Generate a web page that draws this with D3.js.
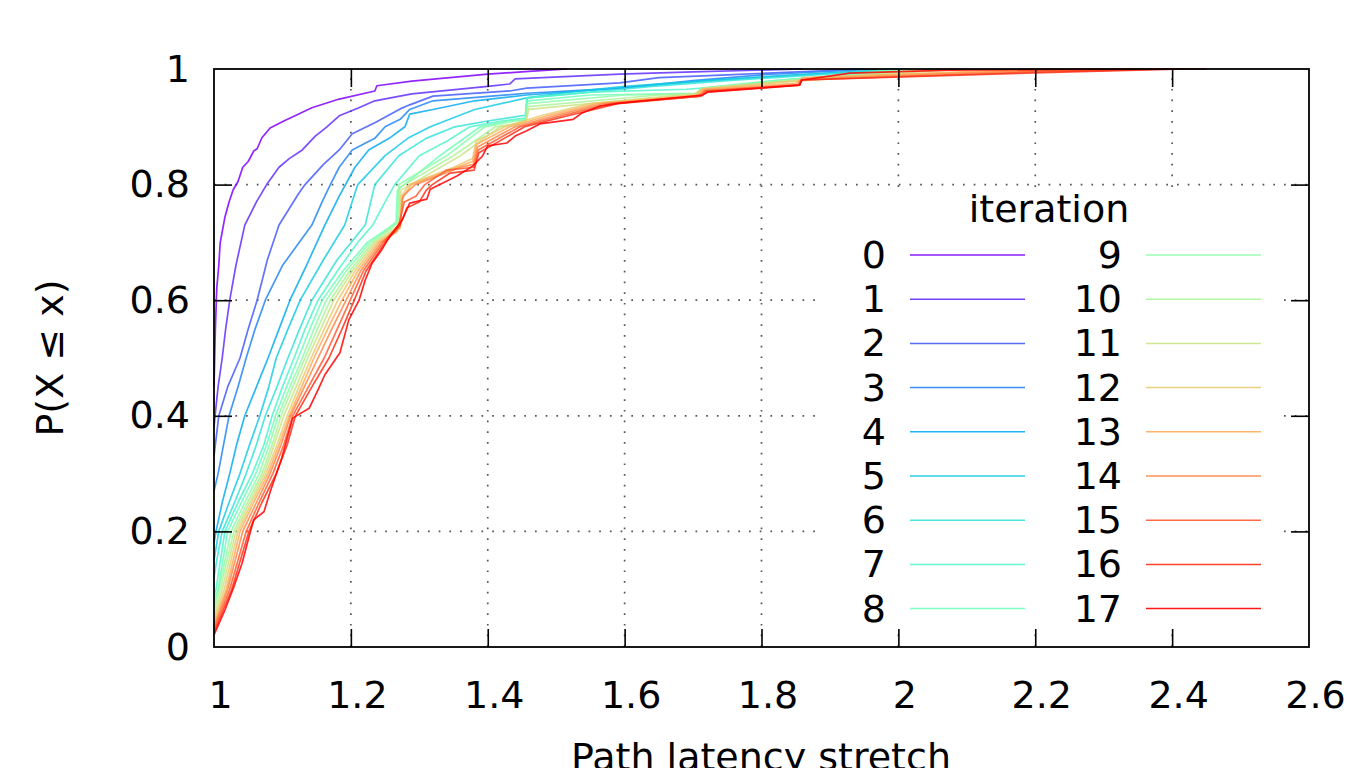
<!DOCTYPE html>
<html>
<head>
<meta charset="utf-8">
<script src="https://cdn.jsdelivr.net/npm/d3@7"></script>
<style>
  body { margin: 0; background: #fff; }
  svg { display: block; font-family: "DejaVu Sans", sans-serif; }
</style>
</head>
<body>
<div id="chart"></div>
<script>
// iterations shown in the legend, one CDF per iteration
var iterations = [0, 1, 2, 3, 4, 5, 6, 7, 8, 9, 10, 11, 12, 13, 14, 15, 16, 17];

var xTicks = [1, 1.2, 1.4, 1.6, 1.8, 2, 2.2, 2.4, 2.6];
var yTicks = [0, 0.2, 0.4, 0.6, 0.8, 1];

// [stretch, P(X <= x)] points of each iteration's cumulative curve
var cdf = [
    [[1.000,0.45],[1.002,0.55],[1.004,0.62],[1.007,0.66],[1.009,0.699],[1.016,0.744],[1.022,0.770],[1.028,0.791],[1.035,0.805],[1.042,0.830],[1.050,0.840],[1.058,0.858],[1.063,0.862],[1.070,0.881],[1.082,0.898],[1.102,0.910],[1.120,0.920],[1.143,0.933],[1.183,0.948],[1.235,0.962],[1.238,0.971],[1.289,0.979],[1.400,0.991],[1.460,0.996],[1.516,1.0]],
    [[1.000,0.38],[1.0015,0.40],[1.006,0.45],[1.012,0.50],[1.017,0.55],[1.023,0.60],[1.032,0.66],[1.045,0.73],[1.062,0.77],[1.077,0.80],[1.095,0.83],[1.110,0.845],[1.129,0.86],[1.148,0.884],[1.165,0.90],[1.183,0.919],[1.210,0.932],[1.235,0.945],[1.289,0.957],[1.40,0.97],[1.432,0.974],[1.440,0.983],[1.593,0.991],[1.70,0.995],[1.86,1.0]],
    [[1.000,0.33],[1.003,0.36],[1.007,0.40],[1.020,0.45],[1.038,0.50],[1.050,0.55],[1.063,0.60],[1.078,0.67],[1.095,0.73],[1.124,0.785],[1.133,0.80],[1.160,0.835],[1.183,0.86],[1.202,0.888],[1.235,0.907],[1.272,0.931],[1.286,0.938],[1.32,0.953],[1.432,0.962],[1.457,0.967],[1.593,0.976],[1.65,0.985],[1.75,0.99],[1.95,1.0]],
    [[1.000,0.27],[1.006,0.30],[1.014,0.35],[1.022,0.40],[1.035,0.45],[1.047,0.50],[1.060,0.55],[1.075,0.60],[1.100,0.66],[1.143,0.73],[1.158,0.77],[1.170,0.80],[1.183,0.83],[1.202,0.86],[1.235,0.88],[1.250,0.90],[1.272,0.913],[1.286,0.93],[1.32,0.945],[1.457,0.958],[1.593,0.967],[1.70,0.98],[1.80,0.99],[1.97,1.0]],
    [[1.000,0.18],[1.003,0.20],[1.012,0.25],[1.023,0.30],[1.033,0.35],[1.045,0.40],[1.062,0.45],[1.079,0.50],[1.095,0.55],[1.111,0.60],[1.135,0.66],[1.162,0.73],[1.183,0.78],[1.206,0.83],[1.226,0.86],[1.256,0.88],[1.279,0.90],[1.286,0.922],[1.32,0.93],[1.381,0.945],[1.457,0.955],[1.593,0.967],[1.72,0.98],[1.85,0.99],[2.0,1.0]],
    [[1.000,0.15],[1.007,0.20],[1.022,0.25],[1.038,0.30],[1.052,0.35],[1.067,0.40],[1.080,0.45],[1.091,0.50],[1.108,0.55],[1.126,0.60],[1.160,0.67],[1.191,0.73],[1.210,0.80],[1.250,0.85],[1.283,0.88],[1.316,0.90],[1.381,0.93],[1.457,0.95],[1.52,0.96],[1.60,0.97],[1.72,0.98],[1.86,0.99],[2.0,1.0]],
    [[1.000,0.12],[1.004,0.15],[1.012,0.20],[1.030,0.25],[1.047,0.30],[1.062,0.35],[1.075,0.40],[1.092,0.45],[1.108,0.50],[1.125,0.55],[1.143,0.60],[1.180,0.67],[1.221,0.73],[1.235,0.80],[1.270,0.85],[1.310,0.88],[1.352,0.90],[1.40,0.91],[1.455,0.92],[1.458,0.95],[1.55,0.96],[1.64,0.97],[1.75,0.98],[1.88,0.99],[2.0,1.0]],
    [[1.000,0.09],[1.003,0.10],[1.016,0.20],[1.035,0.25],[1.056,0.30],[1.073,0.35],[1.085,0.40],[1.100,0.45],[1.117,0.50],[1.133,0.55],[1.152,0.60],[1.180,0.65],[1.210,0.70],[1.232,0.73],[1.250,0.77],[1.264,0.80],[1.300,0.85],[1.340,0.875],[1.374,0.90],[1.42,0.91],[1.455,0.915],[1.457,0.95],[1.55,0.96],[1.69,0.965],[1.75,0.97],[1.82,0.98],[1.92,0.99],[2.0,1.0]],
    [[1.000,0.08],[1.006,0.10],[1.020,0.20],[1.040,0.25],[1.061,0.30],[1.077,0.35],[1.090,0.40],[1.106,0.45],[1.123,0.50],[1.140,0.55],[1.158,0.60],[1.188,0.65],[1.224,0.70],[1.255,0.725],[1.266,0.735],[1.268,0.79],[1.278,0.80],[1.330,0.85],[1.389,0.90],[1.43,0.91],[1.455,0.912],[1.458,0.945],[1.55,0.955],[1.705,0.958],[1.712,0.967],[1.82,0.98],[1.93,0.99],[2.0,1.0]],
    [[1.000,0.07],[1.007,0.10],[1.025,0.20],[1.045,0.25],[1.066,0.30],[1.081,0.35],[1.094,0.40],[1.111,0.45],[1.129,0.50],[1.146,0.55],[1.164,0.60],[1.193,0.65],[1.228,0.70],[1.258,0.725],[1.268,0.735],[1.270,0.80],[1.340,0.85],[1.396,0.90],[1.44,0.91],[1.456,0.912],[1.458,0.94],[1.60,0.955],[1.705,0.957],[1.712,0.966],[1.83,0.98],[1.94,0.99],[2.02,1.0]],
    [[1.000,0.06],[1.009,0.10],[1.029,0.20],[1.049,0.25],[1.070,0.30],[1.085,0.35],[1.098,0.40],[1.115,0.45],[1.133,0.50],[1.151,0.55],[1.170,0.60],[1.198,0.65],[1.232,0.70],[1.260,0.725],[1.270,0.735],[1.271,0.795],[1.350,0.85],[1.411,0.90],[1.445,0.905],[1.456,0.91],[1.459,0.935],[1.65,0.955],[1.706,0.957],[1.713,0.966],[1.84,0.98],[1.95,0.99],[2.05,1.0]],
    [[1.000,0.05],[1.012,0.10],[1.032,0.20],[1.052,0.25],[1.073,0.30],[1.088,0.35],[1.102,0.40],[1.120,0.45],[1.137,0.50],[1.156,0.55],[1.175,0.60],[1.202,0.65],[1.235,0.70],[1.262,0.722],[1.271,0.73],[1.273,0.79],[1.360,0.85],[1.418,0.90],[1.456,0.91],[1.460,0.93],[1.68,0.955],[1.707,0.957],[1.714,0.965],[1.85,0.98],[1.96,0.99],[2.1,1.0]],
    [[1.000,0.045],[1.015,0.10],[1.035,0.20],[1.055,0.25],[1.076,0.30],[1.092,0.35],[1.107,0.40],[1.124,0.45],[1.142,0.50],[1.161,0.55],[1.181,0.60],[1.206,0.65],[1.238,0.70],[1.264,0.72],[1.272,0.73],[1.274,0.78],[1.285,0.80],[1.350,0.83],[1.378,0.845],[1.383,0.875],[1.425,0.90],[1.48,0.92],[1.55,0.94],[1.70,0.955],[1.714,0.966],[1.86,0.98],[2.0,0.99],[2.2,1.0]],
    [[1.000,0.04],[1.018,0.10],[1.038,0.20],[1.058,0.25],[1.079,0.30],[1.095,0.35],[1.110,0.40],[1.128,0.45],[1.146,0.50],[1.166,0.55],[1.187,0.60],[1.210,0.65],[1.241,0.70],[1.265,0.718],[1.272,0.725],[1.275,0.775],[1.288,0.80],[1.355,0.83],[1.378,0.84],[1.384,0.87],[1.432,0.90],[1.49,0.92],[1.56,0.94],[1.705,0.954],[1.715,0.965],[1.85,0.975],[1.86,0.985],[2.1,0.995],[2.3,1.0]],
    [[1.000,0.035],[1.020,0.10],[1.042,0.20],[1.062,0.25],[1.082,0.30],[1.098,0.35],[1.112,0.40],[1.132,0.45],[1.152,0.50],[1.172,0.55],[1.193,0.60],[1.214,0.65],[1.244,0.70],[1.266,0.718],[1.272,0.73],[1.276,0.78],[1.294,0.80],[1.360,0.83],[1.379,0.835],[1.385,0.865],[1.440,0.90],[1.50,0.92],[1.57,0.94],[1.708,0.953],[1.716,0.963],[1.853,0.973],[1.858,0.982],[2.15,0.995],[2.35,1.0]],
    [[1.000,0.03],[1.023,0.10],[1.047,0.20],[1.066,0.25],[1.086,0.30],[1.102,0.35],[1.115,0.40],[1.138,0.45],[1.161,0.50],[1.180,0.55],[1.199,0.60],[1.218,0.65],[1.247,0.70],[1.270,0.73],[1.278,0.77],[1.295,0.78],[1.308,0.80],[1.340,0.825],[1.380,0.83],[1.386,0.86],[1.447,0.90],[1.51,0.92],[1.58,0.94],[1.71,0.953],[1.718,0.962],[1.854,0.972],[1.858,0.981],[2.2,0.995],[2.4,1.0]],
    [[1.000,0.025],[1.026,0.10],[1.051,0.20],[1.070,0.25],[1.091,0.30],[1.107,0.35],[1.119,0.40],[1.143,0.45],[1.168,0.50],[1.187,0.55],[1.205,0.60],[1.222,0.65],[1.250,0.70],[1.272,0.73],[1.282,0.76],[1.300,0.77],[1.310,0.79],[1.319,0.80],[1.345,0.82],[1.380,0.825],[1.387,0.855],[1.454,0.90],[1.52,0.92],[1.59,0.94],[1.712,0.953],[1.72,0.961],[1.855,0.972],[1.859,0.981],[2.25,0.995],[2.42,1.0]],
    [[1.000,0.021],[1.016,0.064],[1.029,0.104],[1.041,0.145],[1.051,0.190],[1.058,0.220],[1.073,0.234],[1.082,0.268],[1.099,0.327],[1.111,0.379],[1.115,0.396],[1.139,0.413],[1.152,0.445],[1.162,0.471],[1.184,0.509],[1.197,0.566],[1.212,0.600],[1.221,0.635],[1.231,0.664],[1.245,0.687],[1.256,0.709],[1.275,0.739],[1.286,0.768],[1.311,0.775],[1.316,0.792],[1.355,0.815],[1.378,0.832],[1.392,0.849],[1.400,0.867],[1.428,0.872],[1.440,0.884],[1.457,0.893],[1.476,0.905],[1.525,0.913],[1.538,0.924],[1.564,0.936],[1.593,0.941],[1.714,0.955],[1.722,0.960],[1.856,0.972],[1.859,0.981],[1.929,0.993],[2.075,0.998],[2.222,0.999],[2.45,1.0]]
];

var WIDTH = 1348, HEIGHT = 768;
var margin = {left: 214, right: 1309, top: 69, bottom: 647};
var FONT = 38;

// gnuplot style rainbow palette (rgbformulae 33,13,10)
function rainbow(t) {
    var r = Math.min(1, Math.abs(2 * t - 0.5));
    var g = Math.sin(Math.PI * t);
    var b = Math.max(0, Math.cos(Math.PI / 2 * t));
    return d3.rgb(r * 255, g * 255, b * 255).formatHex();
}
var color = function (i) { return rainbow(i / (iterations.length - 1)); };

var x = d3.scaleLinear().domain([1, 2.6]).range([margin.left, margin.right]);
var y = d3.scaleLinear().domain([0, 1]).range([margin.bottom, margin.top]);

var svg = d3.select("#chart").append("svg")
    .attr("width", WIDTH)
    .attr("height", HEIGHT);

// dotted grid
var grid = svg.append("g").attr("class", "grid")
    .attr("stroke", "#555")
    .attr("stroke-width", 1.7)
    .attr("stroke-dasharray", "1.7,9");
grid.selectAll("line.gx")
    .data(xTicks.slice(1, -1)).enter()
    .append("line")
    .attr("x1", function (d) { return x(d); })
    .attr("x2", function (d) { return x(d); })
    .attr("y1", margin.bottom)
    .attr("y2", margin.top);
grid.selectAll("line.gy")
    .data(yTicks.slice(1, -1)).enter()
    .append("line")
    .attr("x1", margin.left)
    .attr("x2", margin.right)
    .attr("y1", function (d) { return y(d); })
    .attr("y2", function (d) { return y(d); });

// legend sits on a white box over the grid
var legendBox = {x: 815, y: 189, w: 469, h: 442};
svg.append("rect")
    .attr("x", legendBox.x).attr("y", legendBox.y)
    .attr("width", legendBox.w).attr("height", legendBox.h)
    .attr("fill", "#fff");

// curves
var line = d3.line()
    .x(function (d) { return x(d[0]); })
    .y(function (d) { return y(d[1]); });

svg.append("g").attr("class", "curves")
    .selectAll("path")
    .data(cdf).enter()
    .append("path")
    .attr("d", line)
    .attr("fill", "none")
    .attr("stroke", function (d, i) { return color(i); })
    .attr("stroke-opacity", 0.85)
    .attr("stroke-width", 1.7)
    .attr("stroke-linejoin", "round");

// axes, ticks drawn inwards on all four sides
var TICK = 18;
var fmt = d3.format("~g");

var xAxis = svg.append("g")
    .attr("transform", "translate(0," + margin.bottom + ")")
    .call(d3.axisBottom(x).tickValues(xTicks).tickFormat(fmt).tickSize(-TICK).tickPadding(34));
var xAxisTop = svg.append("g")
    .attr("transform", "translate(0," + margin.top + ")")
    .call(d3.axisTop(x).tickValues(xTicks).tickFormat("").tickSize(-TICK));
var yAxis = svg.append("g")
    .attr("transform", "translate(" + margin.left + ",0)")
    .call(d3.axisLeft(y).tickValues(yTicks).tickFormat(fmt).tickSize(-TICK).tickPadding(24));
var yAxisRight = svg.append("g")
    .attr("transform", "translate(" + margin.right + ",0)")
    .call(d3.axisRight(y).tickValues(yTicks).tickFormat("").tickSize(-TICK));

[xAxis, xAxisTop, yAxis, yAxisRight].forEach(function (g) {
    g.select(".domain").remove();
    g.selectAll(".tick line").attr("stroke", "#000").attr("stroke-width", 1.6);
    g.selectAll("text")
        .attr("fill", "#000")
        .style("font-size", FONT + "px")
        .style("font-family", "'DejaVu Sans', sans-serif");
});
xAxis.selectAll("text").attr("x", 6);
// the outermost ticks coincide with the border
xAxis.selectAll(".tick").filter(function (d) { return d === 1 || d === 2.6; }).select("line").remove();
xAxisTop.selectAll(".tick").filter(function (d) { return d === 1 || d === 2.6; }).select("line").remove();
yAxis.selectAll(".tick").filter(function (d) { return d === 0 || d === 1; }).select("line").remove();
yAxisRight.selectAll(".tick").filter(function (d) { return d === 0 || d === 1; }).select("line").remove();

// border
svg.append("rect")
    .attr("x", margin.left).attr("y", margin.top)
    .attr("width", margin.right - margin.left)
    .attr("height", margin.bottom - margin.top)
    .attr("fill", "none")
    .attr("stroke", "#000")
    .attr("stroke-width", 1.8);

// axis titles
svg.append("text")
    .attr("x", 761)
    .attr("y", 770)
    .attr("text-anchor", "middle")
    .style("font-size", FONT + "px")
    .text("Path latency stretch");

svg.append("text")
    .attr("transform", "translate(63," + ((margin.top + margin.bottom) / 2) + ")rotate(-90)")
    .attr("text-anchor", "middle")
    .style("font-size", FONT + "px")
    .text("P(X \u2264 x)");

// legend, two columns of nine
var legend = svg.append("g").attr("class", "legend");
legend.append("text")
    .attr("x", 1049).attr("y", 222)
    .attr("text-anchor", "middle")
    .style("font-size", FONT + "px")
    .text("iteration");

var ROW0 = 255, ROW_H = 44.2;
var cols = [{label: 886, x1: 910, x2: 1025}, {label: 1122, x1: 1146, x2: 1261}];

var item = legend.selectAll("g.item")
    .data(iterations).enter()
    .append("g")
    .attr("class", "item")
    .attr("transform", function (d, i) {
        return "translate(0," + (ROW0 + (i % 9) * ROW_H) + ")";
    });
item.append("text")
    .attr("x", function (d, i) { return cols[Math.floor(i / 9)].label; })
    .attr("y", 13)
    .attr("text-anchor", "end")
    .style("font-size", FONT + "px")
    .text(function (d) { return d; });
item.append("line")
    .attr("x1", function (d, i) { return cols[Math.floor(i / 9)].x1; })
    .attr("x2", function (d, i) { return cols[Math.floor(i / 9)].x2; })
    .attr("stroke", function (d, i) { return color(i); })
    .attr("stroke-opacity", 0.9)
    .attr("stroke-width", 1.5);
</script>
</body>
</html>
